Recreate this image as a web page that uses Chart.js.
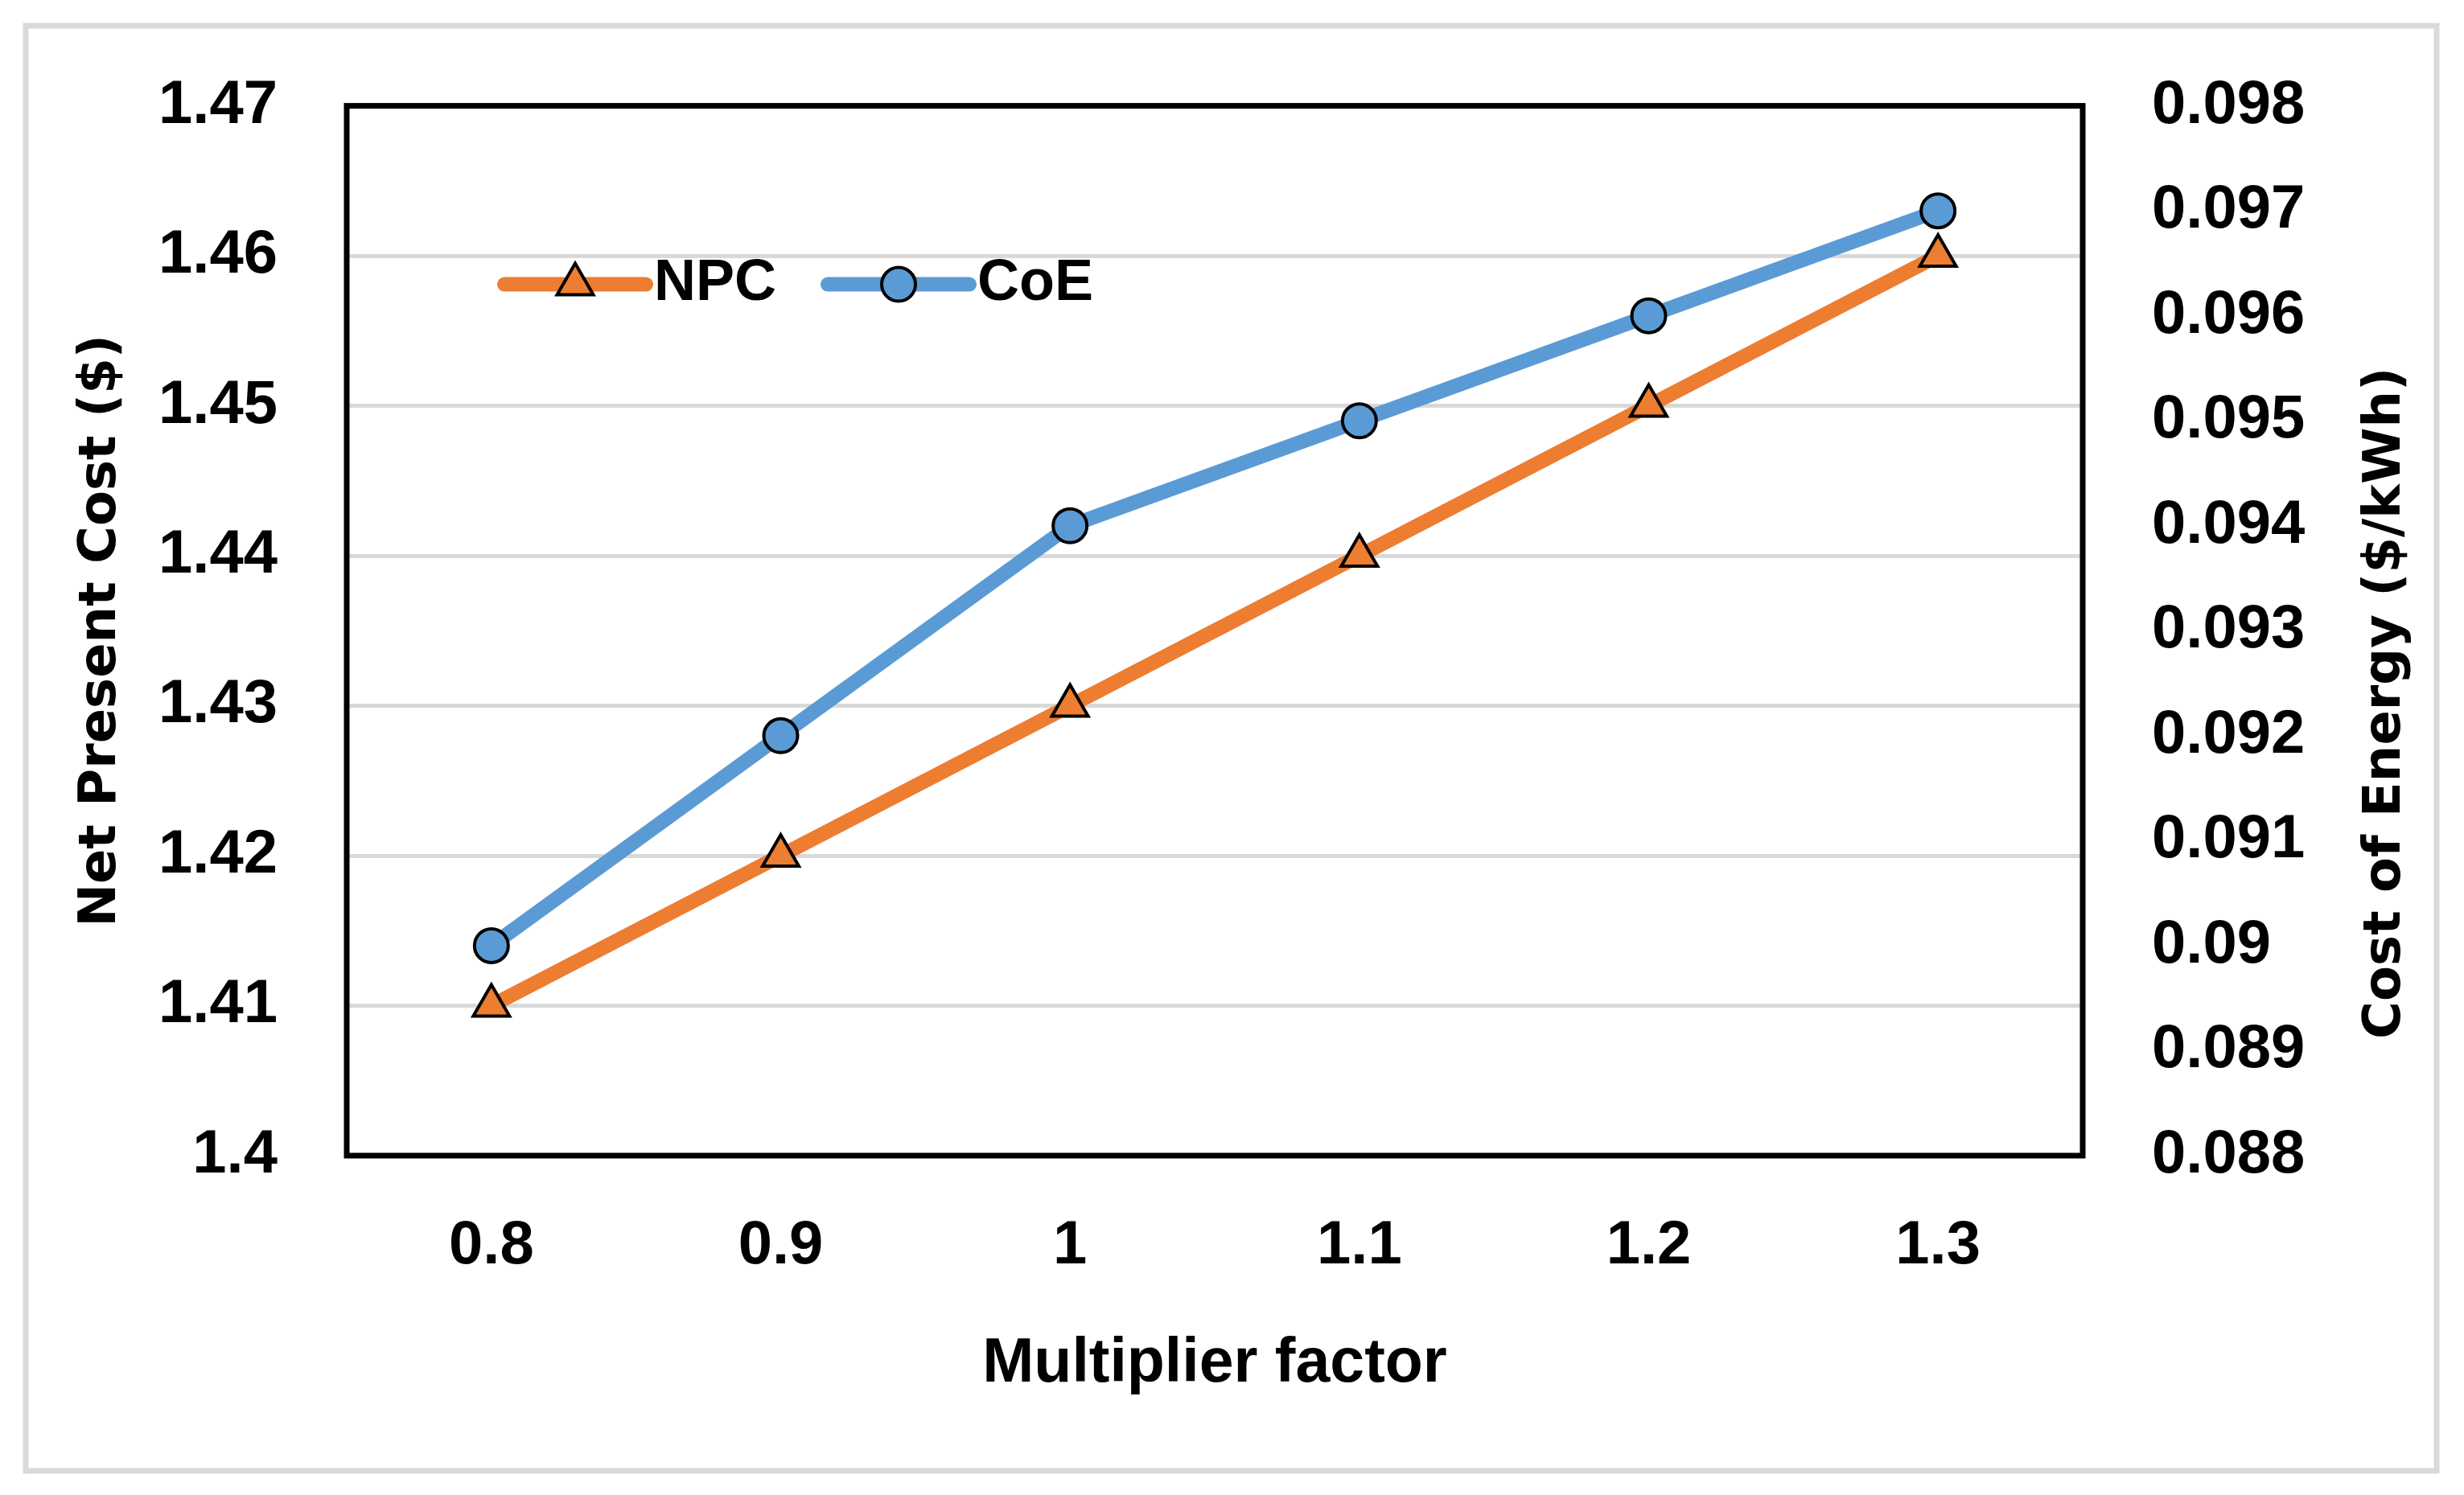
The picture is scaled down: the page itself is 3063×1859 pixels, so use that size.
<!DOCTYPE html>
<html lang="en"><head>
<meta charset="utf-8">
<title>NPC and CoE vs multiplier factor</title>
<script src="https://cdn.jsdelivr.net/npm/chart.js@4.4.1/dist/chart.umd.min.js"></script>
<style>
* { margin: 0; padding: 0; box-sizing: border-box; }
body { background: #ffffff; width: 3063px; height: 1859px; overflow: hidden; }
#wrap { position: absolute; left: 0; top: 0; width: 3063px; height: 1859px; }
</style>
</head>
<body>
<div id="wrap"><canvas id="chart"></canvas></div>
<script>
// data
const factors = ["0.8", "0.9", "1", "1.1", "1.2", "1.3"];
const npcValues = [1.41, 1.42, 1.43, 1.44, 1.45, 1.46];
const coeValues = [0.090, 0.092, 0.094, 0.095, 0.096, 0.097];

// tick values shown on the two y axes
const npcTicks = [1.40, 1.41, 1.42, 1.43, 1.44, 1.45, 1.46, 1.47];
const coeTicks = [0.088, 0.089, 0.090, 0.091, 0.092, 0.093, 0.094, 0.095, 0.096, 0.097, 0.098];

const rightTitle = "Cost of Energy ($/kWh)";

const tickFont = { family: "'Liberation Sans', Arial, sans-serif", size: 76, weight: "bold" };
const sideTitleFont = { family: "'DejaVu Sans', Verdana, sans-serif", size: 64, weight: "bold" };

// white page + light grey outer frame
const pageFrame = {
  id: "pageFrame",
  beforeDraw(chart) {
    const ctx = chart.ctx;
    ctx.save();
    ctx.fillStyle = "#ffffff";
    ctx.fillRect(0, 0, chart.width, chart.height);
    ctx.strokeStyle = "#d9d9d9";
    ctx.lineWidth = 7;
    ctx.strokeRect(32, 32, chart.width - 66, chart.height - 62);
    ctx.restore();
  }
};

// black box round the plot area
const plotFrame = {
  id: "plotFrame",
  beforeDatasetsDraw(chart) {
    const { ctx, chartArea: a } = chart;
    ctx.save();
    ctx.strokeStyle = "#000000";
    ctx.lineWidth = 7;
    ctx.strokeRect(a.left, a.top, a.right - a.left, a.bottom - a.top);
    ctx.restore();
  }
};

// right axis title reads bottom-to-top in the original (chart.js would turn it the other way)
const rightAxisTitle = {
  id: "rightAxisTitle",
  afterDraw(chart) {
    const { ctx, chartArea: a } = chart;
    const s = chart.scales.y1;
    ctx.save();
    ctx.translate(s.right - 97, (a.top + a.bottom) / 2 + 90);
    ctx.rotate(-Math.PI / 2);
    ctx.font = "bold 64px 'DejaVu Sans', Verdana, sans-serif";
    ctx.fillStyle = "#000000";
    ctx.textAlign = "center";
    ctx.textBaseline = "middle";
    ctx.fillText(rightTitle, 0, 0);
    ctx.restore();
  }
};

// legend drawn inside the plot, line + marker + label like excel
const insideLegend = {
  id: "insideLegend",
  afterDatasetsDraw(chart) {
    const { ctx, chartArea: a } = chart;
    let x = a.left + 196;
    const y = a.top + 222;
    const lineLen = 176;
    ctx.save();
    ctx.font = "bold 72px 'Liberation Sans', Arial, sans-serif";
    ctx.textBaseline = "middle";
    chart.data.datasets.forEach((ds) => {
      ctx.strokeStyle = ds.borderColor;
      ctx.lineWidth = ds.borderWidth;
      ctx.lineCap = "round";
      ctx.beginPath();
      ctx.moveTo(x, y);
      ctx.lineTo(x + lineLen, y);
      ctx.stroke();
      const cx = x + lineLen / 2;
      const r = ds.pointRadius;
      ctx.fillStyle = ds.pointBackgroundColor;
      ctx.strokeStyle = ds.pointBorderColor;
      ctx.lineWidth = ds.pointBorderWidth;
      ctx.lineCap = "butt";
      ctx.lineJoin = "miter";
      ctx.beginPath();
      if (ds.pointStyle === "triangle") {
        for (let k = 0; k < 3; k++) {
          const ang = k * 2 * Math.PI / 3;
          const px = cx + Math.sin(ang) * r;
          const py = y - Math.cos(ang) * r;
          if (k === 0) ctx.moveTo(px, py); else ctx.lineTo(px, py);
        }
        ctx.closePath();
      } else {
        ctx.arc(cx, y, r, 0, Math.PI * 2);
      }
      ctx.fill();
      ctx.stroke();
      ctx.fillStyle = "#000000";
      ctx.textAlign = "left";
      const tx = x + lineLen + 10;
      ctx.fillText(ds.label, tx, y);
      x = tx + ctx.measureText(ds.label).width + 64;
    });
    ctx.restore();
  }
};

new Chart(document.getElementById("chart"), {
  type: "line",
  plugins: [pageFrame, plotFrame, insideLegend, rightAxisTitle],
  data: {
    labels: factors,
    datasets: [
      {
        label: "NPC",
        data: npcValues,
        yAxisID: "y",
        borderColor: "#ED7D31",
        borderWidth: 18,
        pointStyle: "triangle",
        pointRadius: 26,
        pointBackgroundColor: "#ED7D31",
        pointBorderColor: "#000000",
        pointBorderWidth: 4,
        tension: 0
      },
      {
        label: "CoE",
        data: coeValues,
        yAxisID: "y1",
        borderColor: "#5B9BD5",
        borderWidth: 18,
        pointStyle: "circle",
        pointRadius: 21,
        pointBackgroundColor: "#5B9BD5",
        pointBorderColor: "#000000",
        pointBorderWidth: 4,
        tension: 0
      }
    ]
  },
  options: {
    responsive: true,
    maintainAspectRatio: false,
    devicePixelRatio: 1,
    animation: false,
    layout: { padding: { top: 123, left: 0, right: 0, bottom: 0 } },
    plugins: {
      legend: { display: false },
      tooltip: { enabled: false }
    },
    scales: {
      x: {
        type: "category",
        offset: true,
        grid: { display: false, drawTicks: false },
        border: { display: false },
        ticks: { font: tickFont, color: "#000000", padding: 67, maxRotation: 0 },
        title: {
          display: true,
          text: "Multiplier factor",
          color: "#000000",
          font: { family: "'Liberation Sans', Arial, sans-serif", size: 77, weight: "bold" },
          padding: { top: 0, bottom: 116 }
        },
        afterFit: (s) => { s.height = 422; }
      },
      y: {
        position: "left",
        min: 1.40,
        max: 1.47,
        afterBuildTicks: (s) => { s.ticks = npcTicks.map((v) => ({ value: v })); },
        grid: { color: "#d9d9d9", lineWidth: 5, drawTicks: false },
        border: { display: false },
        ticks: {
          font: tickFont,
          color: "#000000",
          padding: 86,
          callback: (v) => String(+v.toFixed(2))
        },
        title: {
          display: true,
          text: "Net Present Cost ($)",
          color: "#000000",
          font: sideTitleFont,
          padding: { top: 88, bottom: 0 }
        },
        afterFit: (s) => { s.width = 431; }
      },
      y1: {
        position: "right",
        min: 0.088,
        max: 0.098,
        afterBuildTicks: (s) => { s.ticks = coeTicks.map((v) => ({ value: v })); },
        grid: { display: false, drawTicks: false },
        border: { display: false },
        ticks: {
          font: tickFont,
          color: "#000000",
          padding: 86,
          callback: (v) => String(+v.toFixed(3))
        },
        title: { display: false },
        afterFit: (s) => { s.width = 474; }
      }
    }
  }
});
</script>
</body></html>
